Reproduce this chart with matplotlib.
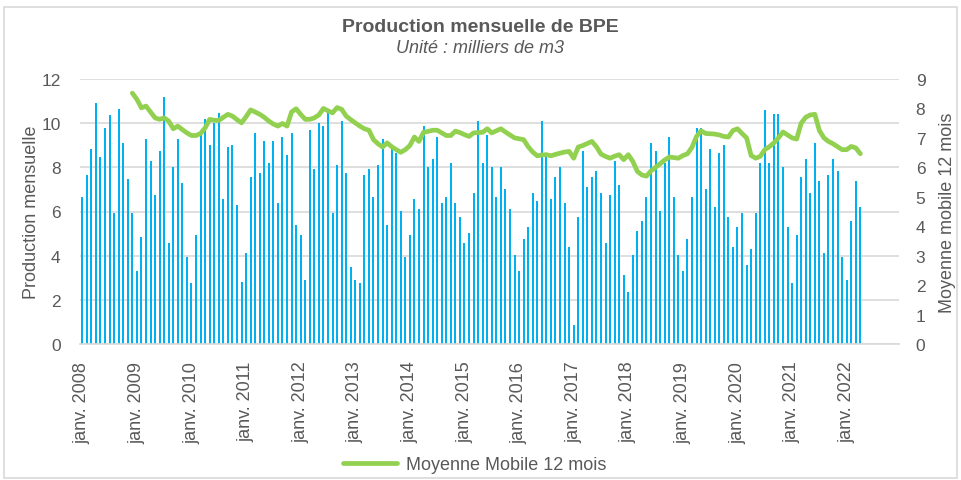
import numpy as np
import matplotlib
matplotlib.use("Agg")
import matplotlib.pyplot as plt

plt.rcParams['font.family'] = ['Liberation Sans', 'DejaVu Sans']

# production mensuelle (milliers de m3), janv. 2008 -> avr. 2022
production = [
    6.67, 7.67, 8.84, 10.93, 8.48, 9.76, 10.38, 5.94, 10.65, 9.12, 7.47, 5.94,   # 2008
    3.29, 4.84, 9.30, 8.30, 6.74, 8.75, 11.20, 4.57, 8.02, 9.30, 7.31, 3.93,     # 2009
    2.74, 4.93, 9.45, 10.20, 9.03, 10.00, 10.47, 6.58, 8.93, 9.03, 6.30, 2.83,   # 2010
    4.11, 7.56, 9.57, 7.75, 9.21, 8.20, 9.21, 6.39, 9.39, 8.57, 9.57, 5.39,      # 2011
    4.93, 2.92, 9.67, 7.93, 10.03, 9.85, 10.47, 5.94, 8.11, 10.12, 7.76, 3.47,   # 2012
    2.92, 2.74, 7.67, 7.93, 6.67, 8.11, 9.30, 5.39, 8.84, 8.65, 6.03, 3.93,      # 2013
    4.93, 6.58, 6.12, 9.85, 8.02, 8.39, 9.39, 6.39, 6.67, 8.20, 6.39, 5.75,      # 2014
    4.57, 5.02, 6.85, 10.12, 8.20, 9.48, 8.02, 6.67, 8.02, 7.03, 6.12, 4.02,     # 2015
    3.29, 4.75, 5.30, 6.85, 6.48, 10.12, 8.48, 6.58, 7.56, 8.02, 6.39, 4.38,     # 2016
    0.84, 5.75, 8.75, 7.11, 7.56, 7.84, 6.85, 4.57, 6.76, 8.30, 7.20, 3.11,      # 2017
    2.37, 4.02, 5.11, 5.57, 6.67, 9.12, 8.75, 6.03, 8.20, 9.39, 6.67, 4.02,      # 2018
    3.29, 4.75, 6.67, 9.76, 9.76, 7.03, 8.84, 6.21, 8.66, 9.03, 5.75, 4.38,      # 2019
    5.30, 5.94, 3.56, 4.29, 5.94, 8.20, 10.58, 8.20, 10.40, 10.40, 8.02, 5.30,   # 2020
    2.74, 4.93, 7.56, 8.39, 6.85, 9.12, 7.38, 4.11, 7.66, 8.39, 7.84, 3.93,      # 2021
    2.92, 5.57, 7.38, 6.21,                                                      # 2022
]

# moyenne mobile 12 mois, a partir de dec. 2008
mm_start = 11
moyenne_mobile = [
    8.52,                                                                        # 2008
    8.31, 8.02, 8.08, 7.88, 7.68, 7.63, 7.68, 7.57, 7.31, 7.40, 7.28, 7.17,      # 2009
    7.08, 7.08, 7.15, 7.34, 7.63, 7.60, 7.59, 7.70, 7.80, 7.74, 7.62, 7.51,      # 2010
    7.72, 7.95, 7.88, 7.80, 7.70, 7.57, 7.47, 7.40, 7.49, 7.40, 7.88, 7.99,      # 2011
    7.80, 7.63, 7.63, 7.68, 7.78, 8.00, 7.92, 7.85, 8.03, 7.97, 7.74, 7.62,      # 2012
    7.51, 7.40, 7.31, 7.26, 6.94, 6.80, 6.69, 6.83, 6.70, 6.60, 6.51, 6.60,      # 2013
    6.74, 7.03, 6.88, 7.19, 7.22, 7.26, 7.26, 7.17, 7.08, 7.08, 7.23, 7.18,      # 2014
    7.11, 7.05, 7.17, 7.18, 7.19, 7.31, 7.17, 7.24, 7.31, 7.20, 7.10, 7.00,      # 2015
    6.97, 6.94, 6.70, 6.52, 6.39, 6.42, 6.43, 6.39, 6.44, 6.48, 6.52, 6.54,      # 2016
    6.31, 6.69, 6.74, 6.81, 6.88, 6.70, 6.45, 6.37, 6.31, 6.38, 6.43, 6.26,      # 2017
    6.43, 6.20, 5.86, 5.74, 5.70, 5.88, 6.00, 6.12, 6.25, 6.35, 6.33, 6.31,      # 2018
    6.40, 6.46, 6.68, 7.05, 7.24, 7.15, 7.14, 7.13, 7.10, 7.05, 7.03, 7.25,      # 2019
    7.31, 7.15, 7.00, 6.40, 6.31, 6.37, 6.60, 6.70, 6.83, 7.00, 7.20, 7.10,      # 2020
    7.00, 6.96, 7.50, 7.70, 7.78, 7.80, 7.25, 7.00, 6.88, 6.80, 6.70, 6.60,      # 2021
    6.60, 6.71, 6.66, 6.46,                                                      # 2022
]

years = list(range(2008, 2023))
tick_labels = ['janv. ' + str(y) for y in years]

grey = '#595959'
x = np.arange(len(production))
x_mm = np.arange(mm_start, mm_start + len(moyenne_mobile))

fig = plt.figure(figsize=(9.61, 4.81), dpi=100)
ax = fig.add_axes([80/961, 1 - 345/481, 819/961, 265/481])
ax2 = ax.twinx()

ax.bar(x, production, width=0.45, color='#00B0F0', zorder=2)
ax2.plot(x_mm, moyenne_mobile, color='#92D050', lw=3.4, solid_capstyle='round',
         label='Moyenne Mobile 12 mois', zorder=3)

ax.set_xlim(-0.5, 179.5)
ax.set_ylim(0, 12)
ax2.set_ylim(0, 9)
ax.set_yticks(range(0, 13, 2))
ax2.set_yticks(range(0, 10))
ax.set_xticks(range(0, 12 * len(years), 12))
ax.set_xticklabels(tick_labels, rotation=90)

ax.grid(axis='y', color='#D9D9D9', lw=1.2, zorder=0)
ax.set_axisbelow(True)
for a in (ax, ax2):
    for s in a.spines.values():
        s.set_visible(False)
    a.tick_params(length=0, colors=grey, labelsize=12.5)
ax.spines['bottom'].set_visible(True)
ax.spines['bottom'].set_color('#D9D9D9')
ax.spines['bottom'].set_linewidth(1.2)
ax.tick_params(axis='x', pad=12, labelsize=13)
ax.tick_params(axis='y', pad=14)
ax2.tick_params(axis='y', pad=12)

ax.set_ylabel('Production mensuelle', fontsize=13, color=grey, labelpad=1)
ax2.set_ylabel('Moyenne mobile 12 mois', fontsize=13, color=grey, labelpad=10)

fig.text(0.5, 1 - 28/481, 'Production mensuelle de BPE', ha='center', va='center',
         fontsize=14, fontweight='bold', color=grey)
fig.text(0.5, 1 - 49/481, 'Unité : milliers de m3', ha='center', va='center',
         fontsize=13, style='italic', color=grey)

fig.legend(loc='center', bbox_to_anchor=(475/961, 1 - 466/481), frameon=False,
           fontsize=13, labelcolor=grey, handlelength=3.0, handletextpad=0.5)

fig.patches.append(plt.Rectangle((4/961, 2/481), 953/961, 471/481, transform=fig.transFigure,
                                 fill=False, edgecolor='#D9D9D9', lw=1.2))

fig.savefig('out.png', dpi=100)
